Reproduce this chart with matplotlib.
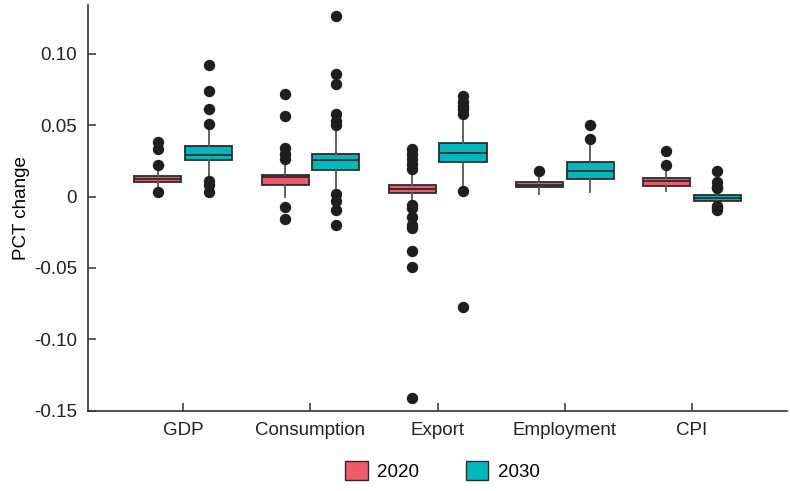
import matplotlib.pyplot as plt
from matplotlib.patches import Patch

plt.rcParams['font.family'] = ['Liberation Sans', 'DejaVu Sans']

# ----------------------------
# Data (summary stats)
# ----------------------------
categories = ["GDP", "Consumption", "Export", "Employment", "CPI"]
years = ["2020", "2030"]
colors = {"2020": "#F0596A", "2030": "#00B8BC"}

# per category: q1, median, q3, whisker low, whisker high
stats_2020 = [
    (0.0104, 0.0125, 0.0146, 0.0075, 0.0175),
    (0.0083, 0.0137, 0.0153, 0.0000, 0.0230),
    (0.0021, 0.0055, 0.0083, -0.0014, 0.0153),
    (0.0063, 0.0083, 0.0104, 0.0014, 0.0140),
    (0.0076, 0.0111, 0.0132, 0.0040, 0.0190),
]
stats_2030 = [
    (0.0257, 0.0292, 0.0354, 0.0125, 0.0470),
    (0.0188, 0.0257, 0.0299, 0.0056, 0.0460),
    (0.0243, 0.0306, 0.0375, 0.0083, 0.0530),
    (0.0125, 0.0180, 0.0243, 0.0028, 0.0375),
    (-0.0028, -0.0007, 0.0007, -0.0040, 0.0028),
]
outliers_2020 = [
    [0.038, 0.033, 0.022, 0.003],
    [0.072, 0.056, 0.034, 0.030, 0.026, -0.007, -0.016],
    [0.033, 0.030, 0.026, 0.023, 0.019, -0.0056, -0.0083, -0.014,
     -0.020, -0.022, -0.038, -0.049, -0.141],
    [0.018],
    [0.032, 0.022],
]
outliers_2030 = [
    [0.092, 0.074, 0.061, 0.0507, 0.011, 0.0083, 0.0028],
    [0.126, 0.0854, 0.0785, 0.058, 0.053, 0.050, 0.0014, -0.0028,
     -0.0097, -0.020],
    [0.070, 0.066, 0.063, 0.061, 0.058, 0.0035, -0.077],
    [0.050, 0.040],
    [0.018, 0.0104, 0.0069, 0.0056, -0.0063, -0.0083, -0.0097],
]

ytick_vals = [0.10, 0.05, 0, -0.05, -0.10, -0.15]
ytick_labels = ["0.10", "0.05", "0", "-0.05", "-0.10", "-0.15"]


def to_bxp(stats, fliers, label):
    out = []
    for (q1, med, q3, lo, hi), fl in zip(stats, fliers):
        out.append({"q1": q1, "med": med, "q3": q3, "whislo": lo,
                    "whishi": hi, "fliers": fl, "label": label})
    return out


# ----------------------------
# Plot
# ----------------------------
fig = plt.figure(figsize=(7.9, 4.91), dpi=100)
ax = fig.add_axes([0.1114, 0.163, 0.885, 0.827])

edge = "#2b2b2b"
flier_style = dict(marker="o", markerfacecolor="#1e1e1e",
                   markeredgecolor="#1e1e1e", markersize=7.2)

for i, (yr, stats, fliers) in enumerate(zip(years, [stats_2020, stats_2030],
                                           [outliers_2020, outliers_2030])):
    offset = -0.2 if i == 0 else 0.2
    positions = [k + offset for k in range(len(categories))]
    ax.bxp(to_bxp(stats, fliers, yr), positions=positions, widths=0.37,
           patch_artist=True, showcaps=False,
           boxprops=dict(facecolor=colors[yr], edgecolor=edge, linewidth=1.3),
           medianprops=dict(color=edge, linewidth=1.3),
           whiskerprops=dict(color="#555555", linewidth=1.3),
           flierprops=flier_style)

FS = 13.5
ax.set_xlim(-0.75, 4.75)
ax.set_ylim(-0.15, 0.134)
ax.set_xticks(range(len(categories)))
ax.set_xticklabels(categories, fontsize=FS)
ax.set_yticks(ytick_vals)
ax.set_yticklabels(ytick_labels, fontsize=FS)
ax.set_ylabel("PCT change", fontsize=FS, labelpad=3)

for side in ["top", "right"]:
    ax.spines[side].set_visible(False)
for side in ["left", "bottom"]:
    ax.spines[side].set_color("#333333")
    ax.spines[side].set_linewidth(1.2)
ax.tick_params(direction="in", length=6, width=1.1, color="#333333",
               labelcolor="#222222", pad=8)

handles = [Patch(facecolor=colors[y], edgecolor=edge, linewidth=1.0, label=y)
           for y in years]
fig.legend(handles=handles, loc="center", bbox_to_anchor=(0.56, 0.041),
           ncol=2, frameon=False, fontsize=FS, handlelength=1.2,
           handleheight=1.2, columnspacing=2.5, handletextpad=0.5)

plt.savefig("out.png", dpi=100)
